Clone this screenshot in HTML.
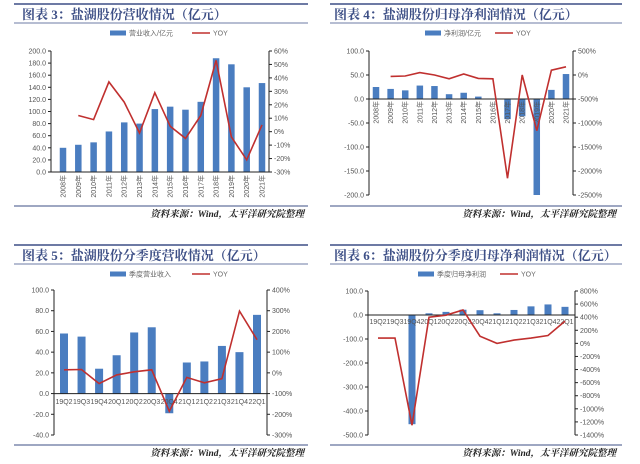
<!DOCTYPE html>
<html><head><meta charset="utf-8"><style>
body{margin:0;background:#fff;width:640px;height:464px;overflow:hidden}
svg{display:block}
.t{font-family:"Liberation Serif","Noto Serif CJK SC",serif;font-weight:bold;font-size:13px;fill:#3d4f86}
.s{font-family:"Liberation Serif","Noto Serif CJK SC",serif;font-style:italic;font-weight:bold;font-size:9.5px;fill:#222}
.k{font-family:"Liberation Sans","Noto Sans CJK SC",sans-serif;font-size:7px;fill:#555}
.lg{font-family:"Liberation Sans","Noto Sans CJK SC",sans-serif;font-size:7px;fill:#666}
</style></head><body>
<svg id="root" width="640" height="464"></svg>
<script>
// Chart 1 data
const c1Cats=["2008年","2009年","2010年","2011年","2012年","2013年","2014年","2015年","2016年","2017年","2018年","2019年","2020年","2021年"];
const c1Bars=[40,45,49,67,82,80,104,108,103,116,188,178,140,147];
const c1Yoy=[null,12,9,37,22,-1,29,4,-5,12,53,-4,-21,5];
const c1LTicks=[0,20,40,60,80,100,120,140,160,180,200];
const c1RTicks=[-30,-20,-10,0,10,20,30,40,50,60];
// Chart 2 data
const c2Cats=["2008年","2009年","2010年","2011年","2012年","2013年","2014年","2015年","2016年","2017年","2018年","2019年","2020年","2021年"];
const c2Bars=[25,21,18,28,27,10,13,5,0.5,-42,-36,-200,19,52];
const c2Yoy=[null,-30,-20,50,0,-80,20,-70,-80,-2150,0,-1160,100,170];
const c2LTicks=[-200,-150,-100,-50,0,50,100];
const c2RTicks=[-2500,-2000,-1500,-1000,-500,0,500];
// Chart 3 data
const c3Cats=["19Q2","19Q3","19Q4","20Q1","20Q2","20Q3","20Q4","21Q1","21Q2","21Q3","21Q4","22Q1"];
const c3Bars=[58,55,24,37,59,64,-19,30,31,46,40,76];
const c3Yoy=[15,16,-52,-10,5,15,-185,-22,-48,-28,298,160];
const c3LTicks=[-40,-20,0,20,40,60,80,100];
const c3RTicks=[-300,-200,-100,0,100,200,300,400];
// Chart 4 data
const c4Cats=["19Q2","19Q3","19Q4","20Q1","20Q2","20Q3","20Q4","21Q1","21Q2","21Q3","21Q4","22Q1"];
const c4Bars=[-1,-2,-455,7,13,22,20,7,21,36,44,34];
const c4Yoy=[80,80,-1250,400,430,510,110,0,50,80,120,340];
const c4LTicks=[-500,-400,-300,-200,-100,0,100];
const c4RTicks=[-1400,-1200,-1000,-800,-600,-400,-200,0,200,400,600,800];

const NS="http://www.w3.org/2000/svg";
const root=document.getElementById('root');
function mk(tag,attrs,parent,text){const e=document.createElementNS(NS,tag);for(const k in attrs)e.setAttribute(k,attrs[k]);if(text!=null)e.textContent=text;(parent||root).appendChild(e);return e;}

function chart(o){
  const g=mk('g',{});
  
  
  const L=mk('line',{x1:o.x0,x2:o.x1,y1:o.top,y2:o.top,stroke:'#3d4f86','stroke-width':1.5},g);
  
  const T=mk('text',{x:o.tx,y:o.top+15,class:'t'},g,o.title);
  
  const U=mk('line',{x1:o.x0,x2:o.x1,y1:o.top+19,y2:o.top+19,stroke:'#3d4f86','stroke-width':0.8},g);
  
  // legend
  const lg=mk('g',{},g);
  
  mk('rect',{x:o.lgx,y:o.lgy-2.5,width:16,height:5,fill:'#4a7dc0'},lg);
  mk('text',{x:o.lgx+19,y:o.lgy+2.5,class:'lg'},lg,o.barName);
  mk('line',{x1:o.lgx+o.lgw,x2:o.lgx+o.lgw+18,y1:o.lgy,y2:o.lgy,stroke:'#c0302f','stroke-width':1.5},lg);
  mk('text',{x:o.lgx+o.lgw+21,y:o.lgy+2.5,class:'lg'},lg,'YOY');
  const lmin=o.lt[0],lmax=o.lt[o.lt.length-1],rmin=o.rt[0],rmax=o.rt[o.rt.length-1];
  const yL=v=>o.yb-(v-lmin)/(lmax-lmin)*(o.yb-o.yt);
  const yR=v=>o.yb-(v-rmin)/(rmax-rmin)*(o.yb-o.yt);
  const n=o.cats.length;
  const xC=i=>o.cx0+i*(o.cx1-o.cx0)/(n-1);
  // axes
  mk('line',{x1:o.ax,x2:o.ax,y1:o.yt,y2:o.yb,stroke:'#222','stroke-width':1},g);
  mk('line',{x1:o.ar,x2:o.ar,y1:o.yt,y2:o.yb,stroke:'#222','stroke-width':1},g);
  o.lt.forEach(v=>{const y=yL(v);mk('line',{x1:o.ax-3,x2:o.ax,y1:y,y2:y,stroke:'#222'},g);
    const t=mk('text',{x:o.ax-5,y:y+2.5,class:'k','text-anchor':'end'},g,v.toFixed(1));
    });
  o.rt.forEach(v=>{const y=yR(v);mk('line',{x1:o.ar,x2:o.ar+3,y1:y,y2:y,stroke:'#222'},g);
    const t=mk('text',{x:o.ar+5,y:y+2.5,class:'k'},g,v+'%');
    });
  // bars
  const y0=yL(0);
  o.bars.forEach((v,i)=>{const y=yL(v);const r=mk('rect',{x:xC(i)-o.bw/2,y:Math.min(y,y0),width:o.bw,height:Math.max(0.5,Math.abs(y-y0)),fill:'#4a7dc0'},g);
    });
  mk('line',{x1:o.ax,x2:o.ar,y1:y0,y2:y0,stroke:'#222','stroke-width':1},g);
  // labels
  o.cats.forEach((c,i)=>{let t;
    if(o.rot){const x=xC(i)+2.5,y=o.laby;t=mk('text',{x:x,y:y,class:'k','text-anchor':'end',transform:`rotate(-90 ${x} ${y})`},g,c);}
    else{t=mk('text',{x:xC(i),y:o.laby,class:'k','text-anchor':'middle'},g,c);}
    });
  // line
  const pts=[];o.yoy.forEach((v,i)=>{if(v!=null)pts.push(xC(i).toFixed(1)+','+yR(v).toFixed(1));});
  const pl=mk('polyline',{points:pts.join(' '),fill:'none',stroke:'#c0302f','stroke-width':1.6},g);
  
  // footer
  const B=mk('line',{x1:o.x0,x2:o.x1,y1:o.fy,y2:o.fy,stroke:'#3d4f86','stroke-width':1},g);
  
  const S=mk('text',{x:o.sx,y:o.fy+11,class:'s','text-anchor':'end'},g,'资料来源：Wind，太平洋研究院整理');
  
}
chart({name:'revenue-annual-chart',x0:14,x1:308,tx:22,top:4,title:'图表 3：盐湖股份营收情况（亿元）',lgx:110,lgy:33,lgw:82,barName:'营业收入/亿元',
  cats:c1Cats,bars:c1Bars,yoy:c1Yoy,lt:c1LTicks,rt:c1RTicks,ax:51,ar:269,yt:51,yb:172,cx0:63,cx1:262,bw:6.5,rot:true,laby:175,fy:206,sx:304});
chart({name:'net-profit-annual-chart',x0:330,x1:622,tx:334,top:4,title:'图表 4：盐湖股份归母净利润情况（亿元）',lgx:425,lgy:33,lgw:70,barName:'净利润/亿元',
  cats:c2Cats,bars:c2Bars,yoy:c2Yoy,lt:c2LTicks,rt:c2RTicks,ax:369,ar:573,yt:51,yb:195,cx0:376,cx1:566,bw:6.5,rot:true,laby:101,fy:206,sx:616});
chart({name:'revenue-quarterly-chart',x0:14,x1:308,tx:22,top:245,title:'图表 5：盐湖股份分季度营收情况（亿元）',lgx:110,lgy:274,lgw:82,barName:'季度营业收入',
  cats:c3Cats,bars:c3Bars,yoy:c3Yoy,lt:c3LTicks,rt:c3RTicks,ax:54,ar:267,yt:290,yb:435,cx0:64,cx1:257,bw:8,rot:false,laby:404,fy:445,sx:304});
chart({name:'net-profit-quarterly-chart',x0:330,x1:622,tx:334,top:245,title:'图表 6：盐湖股份分季度归母净利润情况（亿元）',lgx:418,lgy:274,lgw:82,barName:'季度归母净利润',
  cats:c4Cats,bars:c4Bars,yoy:c4Yoy,lt:c4LTicks,rt:c4RTicks,ax:368,ar:575,yt:291,yb:435,cx0:378,cx1:565,bw:7,rot:false,laby:324,fy:445,sx:616});
</script>
</body></html>
